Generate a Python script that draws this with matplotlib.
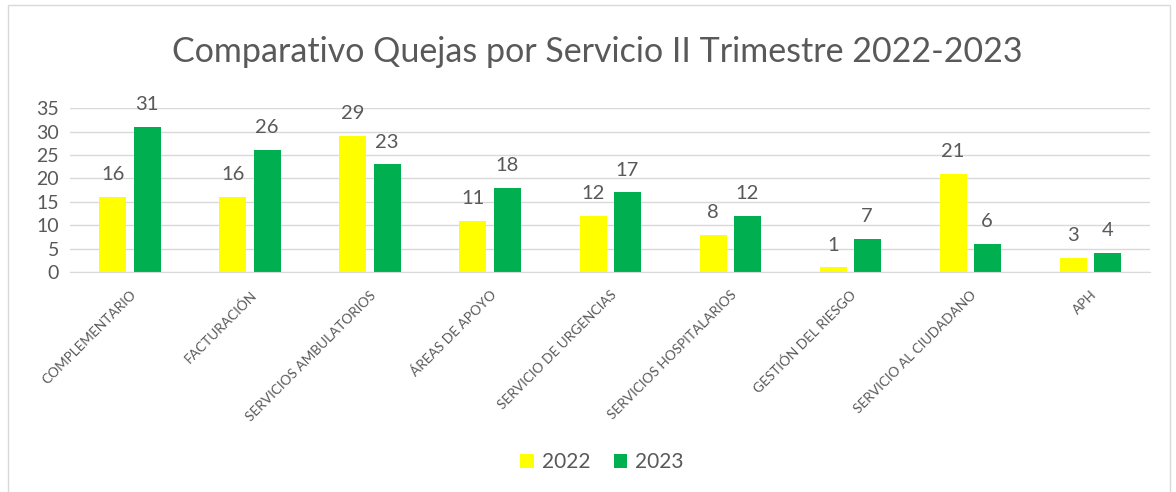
import matplotlib.pyplot as plt
import numpy as np
from matplotlib.patches import Rectangle

plt.rcParams['font.family'] = ['Lato', 'DejaVu Sans']

servicios = ["COMPLEMENTARIO", "FACTURACIÓN", "SERVICIOS AMBULATORIOS", "ÁREAS DE APOYO",
             "SERVICIO DE URGENCIAS", "SERVICIOS HOSPITALARIOS", "GESTIÓN DEL RIESGO",
             "SERVICIO AL CIUDADANO", "APH"]
quejas_2022 = [16, 16, 29, 11, 12, 8, 1, 21, 3]
quejas_2023 = [31, 26, 23, 18, 17, 12, 7, 6, 4]

gris = '#595959'
fig = plt.figure(figsize=(11.76, 4.92), dpi=100)
fig.patches.append(Rectangle((0.007, -0.01), 0.988, 1.0, transform=fig.transFigure,
                             fill=False, edgecolor='#d9d9d9', linewidth=1))
ax = fig.add_axes([0.0595, 0.447, 0.9185, 0.333])

x = np.arange(len(servicios))
w = 0.225
b1 = ax.bar(x - 0.142, quejas_2022, w, color='#ffff00', label='2022')
b2 = ax.bar(x + 0.142, quejas_2023, w, color='#00b050', label='2023')
for barras in (b1, b2):
    for r in barras:
        ax.annotate(str(int(r.get_height())), (r.get_x() + r.get_width() / 2, r.get_height()),
                    xytext=(0, 10), textcoords='offset points', ha='center', va='bottom',
                    fontsize=14.5, color=gris)

ax.set_xlim(-0.5, len(servicios) - 0.5)
ax.set_ylim(0, 35)
ax.set_yticks(range(0, 36, 5))
ax.yaxis.grid(True, color='#d9d9d9', linewidth=1)
ax.set_axisbelow(True)
for s in ['top', 'right', 'left']:
    ax.spines[s].set_visible(False)
ax.spines['bottom'].set_color('#d9d9d9')
ax.tick_params(length=0, colors=gris)
ax.tick_params(axis='y', labelsize=14, pad=8)
ax.set_xticks(x)
ax.set_xticklabels(servicios, rotation=45, ha='right', rotation_mode='anchor', fontsize=9.8)
ax.tick_params(axis='x', pad=12)

fig.text(0.508, 0.895, "Comparativo Quejas por Servicio II Trimestre 2022-2023", ha='center',
         va='center', fontsize=24.5, color=gris)
fig.legend(handles=[b1, b2], loc='center', bbox_to_anchor=(0.512, 0.06), ncol=2, frameon=False,
           fontsize=15, labelcolor=gris, handlelength=0.65, handleheight=0.65, handletextpad=0.4,
           columnspacing=1.1)

fig.savefig('out.png', dpi=100)
